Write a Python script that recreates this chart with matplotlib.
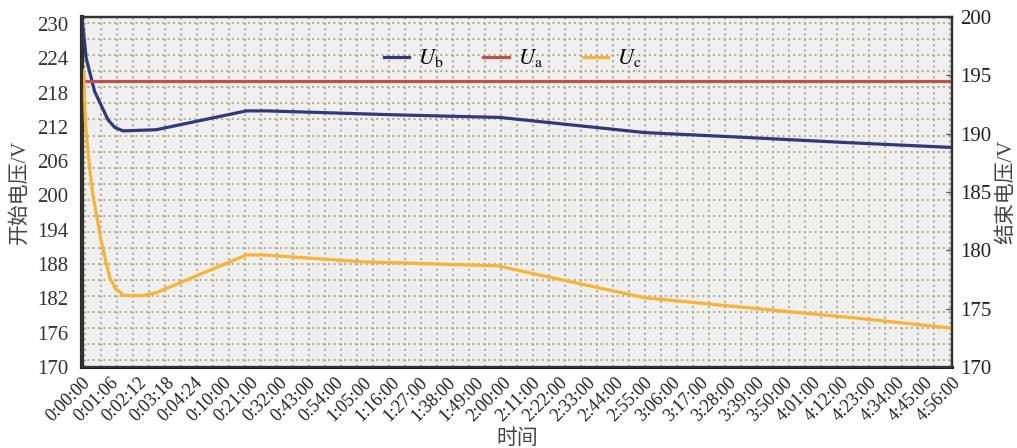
import matplotlib
matplotlib.use("Agg")
import matplotlib.pyplot as plt
from matplotlib.transforms import ScaledTranslation

plt.rcParams["font.family"] = ["Liberation Serif", "Noto Sans CJK SC"]
plt.rcParams["mathtext.fontset"] = "stix"
plt.rcParams["lines.scale_dashes"] = False

# category labels along the time axis
time_labels = [
    "0:00:00", "0:01:06", "0:02:12", "0:03:18", "0:04:24", "0:10:00",
    "0:21:00", "0:32:00", "0:43:00", "0:54:00", "1:05:00", "1:16:00",
    "1:27:00", "1:38:00", "1:49:00", "2:00:00", "2:11:00", "2:22:00",
    "2:33:00", "2:44:00", "2:55:00", "3:06:00", "3:17:00", "3:28:00",
    "3:39:00", "3:50:00", "4:01:00", "4:12:00", "4:23:00", "4:34:00",
    "4:45:00", "4:56:00",
]

# series, x given as position along the category axis
ub_x = [0, 0.15, 0.45, 0.93, 1.17, 1.46, 2.64, 5.86, 6.58, 11.2, 14.9, 20.06, 23.45, 27.48, 31]
ub_y = [231.0, 224.0, 218.2, 213.2, 211.9, 211.3, 211.5, 214.8, 214.8, 214.1, 213.65, 211.0, 210.2, 209.2, 208.4]

ua_x = [0, 31]
ua_y = [220.0, 220.0]

uc_x = [0, 0.06, 0.12, 0.27, 0.39, 0.69, 0.99, 1.22, 1.34, 1.46, 2.17, 2.65, 5.86, 6.45, 10.0, 14.8, 20.06, 24.5, 27.5, 31]
uc_y = [222.0, 221.7, 212.9, 204.8, 200.1, 191.9, 185.6, 183.5, 183.2, 182.5, 182.5, 183.0, 189.6, 189.6, 188.4, 187.7, 182.1, 180.0, 178.6, 176.8]

left_ticks = [170, 176, 182, 188, 194, 200, 206, 212, 218, 224, 230]
right_ticks = [170, 175, 180, 185, 190, 195, 200]

W, H = 1017, 448
L, R, T, B = 82, 952, 17, 367

fig = plt.figure(figsize=(W / 100, H / 100), dpi=100)
ax = fig.add_axes([L / W, (H - B) / H, (R - L) / W, (B - T) / H])
ax.set_facecolor("#EFEFEF")

# dotted background pattern (fixed pixel pitch)
dot_style = dict(color="#B4AE8C", lw=1.45, linestyle=(0, (1.45, 2.4)),
                 transform=ax.transAxes, zorder=0.5, clip_on=True)
px = 84.5
while px < R:
    f = (px - L) / (R - L)
    ax.plot([f, f], [0, 1], **dot_style)
    px += 16.02
py = 23.3
while py < B:
    f = (B - py) / (B - T)
    ax.plot([0, 1], [f, f], **dot_style)
    py += 16.03

c_b, c_a, c_c = "#2E3A7C", "#C0504D", "#F8B334"
ax.plot(ub_x, ub_y, color=c_b, lw=2.3, label=r"$U_\mathrm{b}$", zorder=3, solid_joinstyle="round")
ax.plot(ua_x, ua_y, color=c_a, lw=2.3, label=r"$U_\mathrm{a}$", zorder=3)
ax.plot(uc_x, uc_y, color=c_c, lw=2.3, label=r"$U_\mathrm{c}$", zorder=3, solid_joinstyle="round")

ax.set_xlim(0, len(time_labels) - 1)
ax.set_ylim(170, 231.22)
ax.set_xticks(range(len(time_labels)))
ax.set_xticklabels(time_labels, rotation=45, ha="right", rotation_mode="anchor")
shift = ScaledTranslation(-3 / 100, 0, fig.dpi_scale_trans)
for lab in ax.get_xticklabels():
    lab.set_transform(lab.get_transform() + shift)
ax.set_yticks(left_ticks)
ax.tick_params(axis="x", length=0, pad=5, labelsize=13, labelcolor="#1E1E1E")
ax.tick_params(axis="y", length=0, pad=10, labelsize=15, labelcolor="#333333")

ax2 = ax.twinx()
ax2.set_ylim(170, 200)
ax2.set_yticks(right_ticks)
ax2.tick_params(axis="y", direction="in", length=4, width=1, color="#555555",
                pad=6, labelsize=15, labelcolor="#222222")

for a in (ax, ax2):
    for s in a.spines.values():
        s.set_color("#333333")
        s.set_linewidth(1.6)
ax.spines["left"].set_linewidth(3)
ax.spines["left"].set_color("#2A2A2A")
ax.spines["bottom"].set_linewidth(2.2)
ax.spines["bottom"].set_color("#1A1A1A")

ax.set_xlabel("时间", fontsize=15, color="#444444", labelpad=3)
ax.set_ylabel("开始电压/V", fontsize=15, color="#444444", labelpad=5)
ax2.set_ylabel("结束电压/V", fontsize=15, color="#444444", labelpad=4, rotation=90)

leg = ax.legend(loc="upper center", bbox_to_anchor=(0.495, 0.97), ncol=3, frameon=False,
                fontsize=16, handlelength=1.15, columnspacing=1.8, handletextpad=0.4)

fig.savefig("out.png", dpi=100, facecolor="white")
